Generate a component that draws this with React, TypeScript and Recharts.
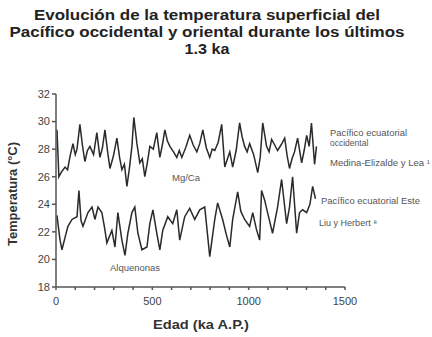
import React from "react";
import { LineChart, Line, XAxis, YAxis } from "recharts";

const mgcaAges = [5, 15, 31, 47, 60, 73, 88, 100, 109, 124, 137, 150, 163, 176, 195, 212, 228, 241, 254, 268, 280, 298, 316, 330, 342, 355, 368, 381, 394, 404, 420, 435, 448, 461, 475, 487, 505, 523, 539, 552, 565, 578, 591, 610, 627, 640, 653, 673, 694, 712, 731, 746, 762, 780, 798, 811, 824, 842, 860, 876, 890, 902, 917, 935, 953, 966, 979, 992, 1005, 1026, 1047, 1060, 1073, 1093, 1106, 1119, 1135, 1150, 1168, 1187, 1200, 1212, 1225, 1238, 1254, 1275, 1288, 1301, 1314, 1326, 1342, 1352];
const mgcaValues = [29.4, 26.0, 26.4, 26.7, 26.5, 27.5, 28.4, 27.6, 28.0, 29.8, 28.3, 27.1, 27.9, 28.2, 27.6, 29.2, 27.4, 28.1, 29.4, 27.8, 26.6, 27.5, 28.8, 27.4, 26.5, 26.9, 25.3, 26.6, 28.2, 30.3, 28.4, 27.0, 27.3, 26.0, 27.1, 28.2, 28.0, 29.2, 27.4, 28.3, 29.4, 28.6, 28.2, 27.8, 27.4, 27.9, 27.4, 28.1, 29.0, 28.3, 27.8, 28.4, 29.4, 28.1, 27.4, 28.0, 27.9, 28.5, 29.8, 26.7, 27.3, 27.8, 26.7, 27.9, 29.9, 28.9, 28.2, 27.8, 28.4, 27.6, 26.3, 27.4, 29.9, 28.2, 27.8, 28.7, 28.3, 27.9, 28.3, 28.8, 27.5, 26.6, 27.3, 27.8, 28.8, 27.0, 27.9, 29.0, 28.2, 29.9, 26.9, 28.2];

const alkAges = [5, 21, 31, 47, 62, 83, 109, 119, 130, 140, 166, 187, 202, 218, 238, 252, 264, 290, 306, 321, 342, 358, 373, 394, 409, 425, 446, 472, 487, 503, 523, 539, 554, 580, 606, 627, 642, 668, 694, 720, 746, 772, 785, 798, 824, 839, 865, 884, 902, 917, 943, 959, 979, 1005, 1021, 1040, 1057, 1067, 1083, 1098, 1124, 1150, 1171, 1197, 1212, 1228, 1249, 1264, 1280, 1301, 1318, 1332, 1347];
const alkValues = [23.2, 21.4, 20.7, 21.6, 22.4, 22.9, 23.1, 25.0, 22.8, 22.4, 23.4, 23.8, 22.9, 23.8, 23.4, 22.3, 21.2, 22.1, 20.9, 23.4, 21.4, 20.3, 21.9, 23.4, 23.8, 21.9, 20.7, 20.9, 22.6, 23.6, 21.9, 20.7, 22.1, 23.1, 22.6, 23.6, 21.4, 23.1, 23.7, 22.9, 23.6, 23.8, 22.0, 20.2, 22.9, 24.1, 22.9, 21.8, 20.9, 22.9, 24.9, 23.5, 22.9, 22.4, 23.4, 22.2, 21.4, 25.0, 24.3, 23.4, 21.9, 23.8, 25.8, 22.6, 23.8, 26.0, 21.9, 23.4, 23.6, 23.4, 24.0, 25.3, 24.4];

const xTicks = [0, 100, 200, 300, 400, 500, 600, 700, 800, 900, 1000, 1100, 1200, 1300, 1400, 1500];
const xLabels = [0, 500, 1000, 1500];
const yTicks = [18, 20, 22, 24, 26, 28, 30, 32];

const titleLines = [
  "Evolución de la temperatura superficial del",
  "Pacífico occidental y oriental durante los últimos",
  "1.3 ka",
];
const titleWidths = [346, 395, 45];

const mgcaData = mgcaAges.map((a, i) => ({ age: a, mgca: mgcaValues[i] }));
const alkData = alkAges.map((a, i) => ({ age: a, alk: alkValues[i] }));

const FONT = "Liberation Sans, Arial, sans-serif";

const XTick = (props: any) => {
  const { x, y, payload } = props;
  if (!xLabels.includes(payload.value)) return null;
  return (
    <text x={x} y={y + 13} textAnchor="middle" fontSize={11} fill="#444" fontFamily={FONT}>
      {payload.value}
    </text>
  );
};

export default function App() {
  return (
    <div style={{ position: "absolute", left: 0, top: 0, width: 432, height: 337, background: "#fff" }}>
      <LineChart
        width={432}
        height={337}
        margin={{ top: 94, right: 87, bottom: 0, left: 0 }}
      >
        <XAxis
          dataKey="age"
          type="number"
          domain={[0, 1500]}
          ticks={xTicks}
          interval={0}
          tick={<XTick />}
          tickSize={3}
          stroke="#555"
          strokeWidth={1.5}
          height={50}
          allowDuplicatedCategory={false}
        />
        <YAxis
          type="number"
          domain={[18, 32]}
          ticks={yTicks}
          interval={0}
          tickSize={4}
          width={56}
          stroke="#555"
          strokeWidth={1.5}
          tick={{ fontSize: 11, fill: "#444", fontFamily: FONT }}
        />
        <Line data={mgcaData} dataKey="mgca" type="linear" stroke="#2a2a2a" strokeWidth={1.5} dot={false} isAnimationActive={false} />
        <Line data={alkData} dataKey="alk" type="linear" stroke="#2a2a2a" strokeWidth={1.5} dot={false} isAnimationActive={false} />
      </LineChart>
      <svg width={432} height={337} style={{ position: "absolute", left: 0, top: 0, pointerEvents: "none" }}>
        {titleLines.map((t, i) => (
          <text key={i} x={207} y={20 + i * 17} textAnchor="middle" fontSize={14.5} fontWeight="bold" fill="#222" fontFamily={FONT} textLength={titleWidths[i]} lengthAdjust="spacingAndGlyphs">
            {t}
          </text>
        ))}
        <text x={201} y={329} textAnchor="middle" fontSize={12.5} fontWeight="bold" fill="#333" fontFamily={FONT} textLength={96} lengthAdjust="spacingAndGlyphs">
          Edad (ka A.P.)
        </text>
        <text x={17} y={194} textAnchor="middle" fontSize={12.5} fontWeight="bold" fill="#333" fontFamily={FONT} transform="rotate(-90 17 194)" textLength={104} lengthAdjust="spacingAndGlyphs">
          Temperatura (°C)
        </text>
        <g fontSize={8.5} fill="#555" fontFamily={FONT}>
          <text x={330} y={136} textLength={77} lengthAdjust="spacingAndGlyphs">Pacífico ecuatorial</text>
          <text x={330} y={146}>occidental</text>
          <text x={330} y={166} textLength={100} lengthAdjust="spacingAndGlyphs">Medina-Elizalde y Lea ¹</text>
          <text x={321} y={204} textLength={99} lengthAdjust="spacingAndGlyphs">Pacífico ecuatorial Este</text>
          <text x={319} y={226} textLength={58} lengthAdjust="spacingAndGlyphs">Liu y Herbert ⁸</text>
          <text x={172} y={181} textLength={28} lengthAdjust="spacingAndGlyphs">Mg/Ca</text>
          <text x={110} y={271} textLength={50} lengthAdjust="spacingAndGlyphs">Alquenonas</text>
        </g>
      </svg>
    </div>
  );
}
